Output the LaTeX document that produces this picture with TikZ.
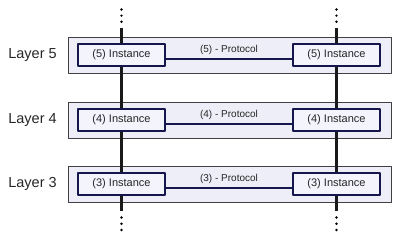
\documentclass[tikz,border=0pt]{standalone}
\usepackage{fontspec}
\setmainfont{Liberation Sans}
\definecolor{bandfill}{HTML}{EEEEF8}
\definecolor{boxfill}{HTML}{F4F4FD}
\definecolor{navy}{HTML}{16164E}
\tikzset{
	layerband/.style={draw=black!75, line width=0.9pt, fill=bandfill, minimum width=323pt, minimum height=36pt, inner sep=0pt},
	instbox/.style={draw=navy, line width=1.6pt, fill=boxfill, minimum width=87pt, minimum height=22pt, inner sep=0pt, font=\fontsize{11}{12}\selectfont, text=black!85},
	stack/.style={line width=2.2pt, black!90},
	protoline/.style={line width=1.1pt, navy},
}
\begin{document}
\begin{tikzpicture}[x=1pt,y=-1pt,line join=round]
				\useasboundingbox (0,0) rectangle (400,240);
				
				\foreach \l/\y in {5/55,4/120,3/184} {
					\node[layerband] (band\l) at (229.5,\y) {};
					\node[font=\fontsize{14.5}{16}\selectfont, text=black!85] (name\l) at (32.5,\y) {Layer \l};
				}
				
				\coordinate (topL) at (121.5,28);
				\coordinate (topR) at (336.5,28);
				\coordinate (botL) at (121.5,211);
				\coordinate (botR) at (336.5,211);
				
				\foreach \l/\y in {5/55,4/120,3/184} {
					\node[instbox] (left\l) at (121.5,\y) {(\l) Instance};
					\node[instbox] (right\l) at (336.5,\y) {(\l) Instance};
				}
				
				% vertical stacks
				\draw[stack] (topL) -- (left5.north);
				\draw[stack] (left5.south) -- (left4.north);
				\draw[stack] (left4.south) -- (left3.north);
				\draw[stack] (left3.south) -- (botL);
				\draw[stack] (topR) -- (right5.north);
				\draw[stack] (right5.south) -- (right4.north);
				\draw[stack] (right4.south) -- (right3.north);
				\draw[stack] (right3.south) -- (botR);
				
				% peer protocols
				\foreach \l in {5,4,3} {
					\draw[protoline] ([yshift=-4pt]left\l.east) -- node[above=1pt, font=\fontsize{10}{11}\selectfont, text=black!85] (proto\l) {(\l) - Protocol} ([yshift=-4pt]right\l.west);
				}
				
				% continuation dots
				\foreach \x in {121.5,336.5} {
					\foreach \d in {9.5,15.7,21.8,217.5,223.8,230} {
						\fill (\x,\d) circle (1.3pt);
					}
				}
			\end{tikzpicture}
\end{document}
